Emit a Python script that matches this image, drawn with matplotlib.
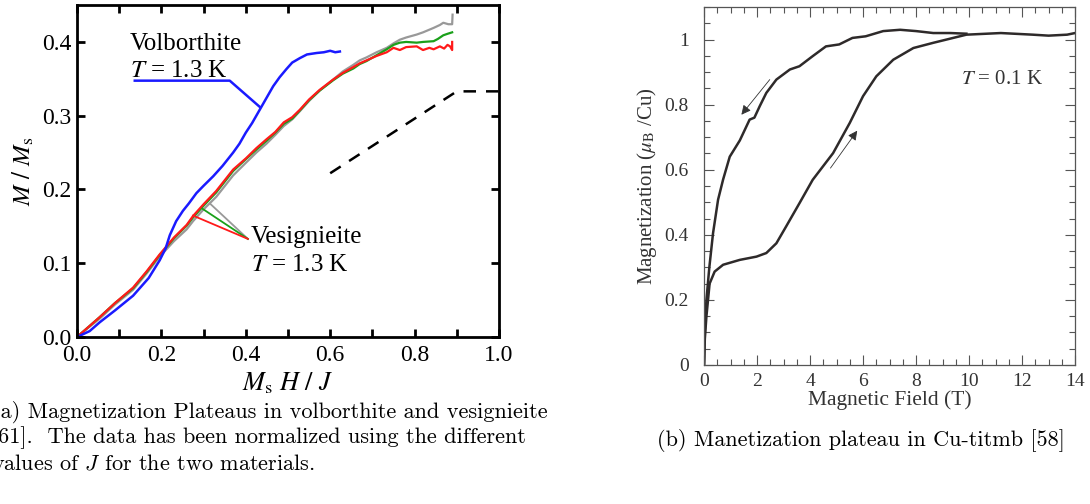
import numpy as np
import matplotlib
matplotlib.use("Agg")
import matplotlib.pyplot as plt
from matplotlib.ticker import MultipleLocator

plt.rcParams['font.family'] = ['Liberation Serif', 'DejaVu Serif']
plt.rcParams['mathtext.fontset'] = 'stix'

# ---- panel (a) data: M/Ms vs Ms H/J ----
volb_x = [0.0, 0.03, 0.054, 0.09, 0.133, 0.17, 0.196, 0.21, 0.22, 0.235, 0.251, 0.265,
          0.283, 0.30, 0.323, 0.345, 0.37, 0.385, 0.40, 0.415, 0.433, 0.45, 0.465, 0.48,
          0.496, 0.51, 0.528, 0.545, 0.568, 0.585, 0.60, 0.612, 0.623]
volb_y = [0.0, 0.008, 0.02, 0.036, 0.056, 0.08, 0.104, 0.12, 0.138, 0.157, 0.171, 0.181,
          0.195, 0.205, 0.218, 0.232, 0.25, 0.262, 0.277, 0.29, 0.308, 0.325, 0.34, 0.352,
          0.363, 0.372, 0.378, 0.383, 0.385, 0.386, 0.388, 0.386, 0.387]

vesi_x = [0.0, 0.03, 0.054, 0.09, 0.133, 0.165, 0.196, 0.23, 0.26, 0.275, 0.30, 0.33,
          0.37, 0.40, 0.425, 0.449, 0.47, 0.49, 0.51, 0.528, 0.55, 0.575, 0.607, 0.63,
          0.655, 0.67, 0.686, 0.71, 0.734]
red_y = [0.0, 0.015, 0.027, 0.046, 0.067, 0.089, 0.112, 0.135, 0.152, 0.164, 0.18, 0.198,
         0.227, 0.242, 0.256, 0.268, 0.278, 0.291, 0.298, 0.308, 0.322, 0.335, 0.349, 0.358,
         0.366, 0.371, 0.375, 0.381, 0.386]
green_y = [0.0, 0.015, 0.027, 0.046, 0.066, 0.088, 0.111, 0.134, 0.151, 0.162, 0.178, 0.196,
           0.225, 0.241, 0.254, 0.266, 0.277, 0.289, 0.296, 0.307, 0.321, 0.334, 0.348, 0.357,
           0.364, 0.37, 0.374, 0.382, 0.39]
gray_y = [0.0, 0.014, 0.025, 0.044, 0.064, 0.086, 0.109, 0.13, 0.146, 0.157, 0.173, 0.19,
          0.219, 0.236, 0.25, 0.262, 0.274, 0.286, 0.295, 0.306, 0.32, 0.334, 0.349, 0.36,
          0.369, 0.375, 0.379, 0.386, 0.392]

red_tail_x = [0.734, 0.75, 0.765, 0.78, 0.805, 0.82, 0.835, 0.845, 0.86, 0.87, 0.878, 0.884, 0.889, 0.889]
red_tail_y = [0.386, 0.392, 0.389, 0.393, 0.394, 0.389, 0.392, 0.39, 0.394, 0.391, 0.396, 0.394, 0.389, 0.40]
green_tail_x = [0.734, 0.75, 0.765, 0.78, 0.805, 0.82, 0.845, 0.855, 0.868, 0.878, 0.889]
green_tail_y = [0.39, 0.396, 0.399, 0.4, 0.399, 0.4, 0.401, 0.404, 0.409, 0.411, 0.413]
gray_tail_x = [0.734, 0.75, 0.765, 0.78, 0.805, 0.82, 0.845, 0.86, 0.868, 0.88, 0.889, 0.89]
gray_tail_y = [0.392, 0.398, 0.403, 0.406, 0.41, 0.413, 0.419, 0.423, 0.426, 0.424, 0.424, 0.437]

theory_x = [0.6, 0.9, 1.0]
theory_y = [0.222, 0.333, 0.333]

# ---- panel (b) data: magnetization of Cu-titmb ----
up_x = [0.0, 0.03, 0.09, 0.21, 0.4, 0.72, 1.35, 1.98, 2.35, 2.73, 3.1, 3.6, 4.1, 4.87,
        5.5, 6.0, 6.5, 7.14, 7.9, 8.65, 9.4, 9.9, 11.2, 12.4, 13.0, 13.7, 14.0]
up_y = [0.0, 0.08, 0.149, 0.25, 0.287, 0.308, 0.323, 0.333, 0.344, 0.374, 0.426, 0.497,
        0.569, 0.651, 0.744, 0.826, 0.887, 0.938, 0.974, 0.99, 1.005, 1.015, 1.02, 1.015,
        1.012, 1.015, 1.02]
down_x = [0.0, 0.03, 0.09, 0.2, 0.34, 0.53, 0.72, 0.97, 1.35, 1.72, 1.9, 2.1, 2.35, 2.73,
          3.24, 3.6, 4.1, 4.6, 5.1, 5.6, 6.1, 6.76, 7.4, 8.0, 8.65, 9.3, 9.9]
down_y = [0.0, 0.1, 0.2, 0.3, 0.405, 0.508, 0.57, 0.64, 0.69, 0.754, 0.76, 0.795, 0.836,
          0.877, 0.908, 0.918, 0.949, 0.979, 0.985, 1.005, 1.01, 1.026, 1.03, 1.026, 1.02,
          1.02, 1.018]

fig = plt.figure(figsize=(10.9, 5.04), dpi=100)

# ================= panel (a) =================
ax1 = fig.add_axes([0.0706, 0.3313, 0.3872, 0.6587])
ax1.plot(vesi_x + gray_tail_x[1:], gray_y + gray_tail_y[1:], color='#999999', lw=1.6)
ax1.plot(vesi_x + green_tail_x[1:], green_y + green_tail_y[1:], color='#1aa01a', lw=1.6)
ax1.plot(vesi_x + red_tail_x[1:], red_y + red_tail_y[1:], color='#ff1a1a', lw=1.6)
ax1.plot(volb_x, volb_y, color='#1a1aff', lw=1.8)
ax1.plot(theory_x, theory_y, color='black', lw=1.8, dashes=(5, 4))

# annotations
ax1.plot([0.137, 0.362, 0.433], [0.3475, 0.3475, 0.312], color='#1a1aff', lw=1.8)
ax1.plot([0.405, 0.315], [0.133, 0.181], color='#999999', lw=1.3)
ax1.plot([0.405, 0.297], [0.133, 0.174], color='#1aa01a', lw=1.3)
ax1.plot([0.405, 0.275], [0.133, 0.1646], color='#ff1a1a', lw=1.3)
ax1.text(0.125, 0.397, 'Volborthite', fontsize=18, va='center')
ax1.text(0.125, 0.36, r'$T$ = 1.3 K', fontsize=18, va='center')
ax1.text(0.412, 0.135, 'Vesignieite', fontsize=18, va='center')
ax1.text(0.412, 0.097, r'$T$ = 1.3 K', fontsize=18, va='center')

ax1.set_xlim(0, 1.0)
ax1.set_ylim(0, 0.45)
ax1.xaxis.set_minor_locator(MultipleLocator(0.1))
ax1.set_xticks([0.0, 0.2, 0.4, 0.6, 0.8, 1.0])
ax1.set_xticklabels(['0.0', '0.2', '0.4', '0.6', '0.8', '1.0'])
ax1.set_yticks([0.0, 0.1, 0.2, 0.3, 0.4])
ax1.set_yticklabels(['0.0', '0.1', '0.2', '0.3', '0.4'])
ax1.tick_params(which='both', direction='in', top=True, right=True, width=2,
                length=6, labelsize=17)
ax1.tick_params(axis='x', pad=6)
ax1.tick_params(axis='y', pad=4)
for s in ax1.spines.values():
    s.set_linewidth(2)
ax1.set_xlabel(r'$M_{\rm s}\ H\ /\ J$', fontsize=19, labelpad=3)
ax1.set_ylabel(r'$M\ /\ M_{\rm s}$', fontsize=18, labelpad=4)

# ================= panel (b) =================
ax2 = fig.add_axes([0.6459, 0.2758, 0.3404, 0.7103])
ax2.plot(up_x, up_y, color='#2e2a2a', lw=1.8)
ax2.plot(down_x, down_y, color='#2e2a2a', lw=1.8)
ax2.annotate('', xy=(1.41, 0.769), xytext=(2.48, 0.877),
             arrowprops=dict(arrowstyle='-|>', color='#333333', lw=0.6,
                             mutation_scale=14, shrinkA=0, shrinkB=0))
ax2.annotate('', xy=(5.78, 0.72), xytext=(4.77, 0.605),
             arrowprops=dict(arrowstyle='-|>', color='#333333', lw=0.6,
                             mutation_scale=14, shrinkA=0, shrinkB=0))
ax2.text(9.7, 0.877, r'$T$ = 0.1 K', fontsize=15, va='center', color='#333333')

ax2.set_xlim(0, 14)
ax2.set_ylim(0, 1.1)
ax2.xaxis.set_major_locator(MultipleLocator(2))
ax2.xaxis.set_minor_locator(MultipleLocator(0.5))
ax2.yaxis.set_minor_locator(MultipleLocator(0.05))
ax2.set_yticks([0, 0.2, 0.4, 0.6, 0.8, 1.0])
ax2.set_yticklabels(['0', '0.2', '0.4', '0.6', '0.8', '1'])
ax2.tick_params(which='both', direction='in', top=True, right=True, width=0.8,
                color='#555555', labelsize=14, labelcolor='#333333')
ax2.tick_params(which='major', length=7)
ax2.tick_params(which='minor', length=4)
ax2.tick_params(axis='y', pad=11)
ax2.tick_params(axis='x', pad=6)
for s in ax2.spines.values():
    s.set_linewidth(0.9)
    s.set_color('#555555')
ax2.set_xlabel('Magnetic Field (T)', fontsize=15.5, color='#333333', labelpad=0)
ax2.set_ylabel(r'Magnetization ($\mu_{\rm B}$ /Cu)', fontsize=15, color='#333333', labelpad=4)

# ================= captions =================
cap = dict(fontsize=16, family='cmr10', math_fontfamily='cm', va='center')
fig.text(-0.007, 1 - 412 / 504, '(a) Magnetization Plateaus in volborthite and vesignieite', **cap)
fig.text(-0.007, 1 - 438 / 504, '[61].  The data has been normalized using the different', **cap)
fig.text(-0.007, 1 - 463 / 504, r'values of $J$ for the two materials.', **cap)
fig.text(0.603, 1 - 440 / 504, '(b) Manetization plateau in Cu-titmb [58]', **cap)

fig.savefig('out.png', dpi=100)
